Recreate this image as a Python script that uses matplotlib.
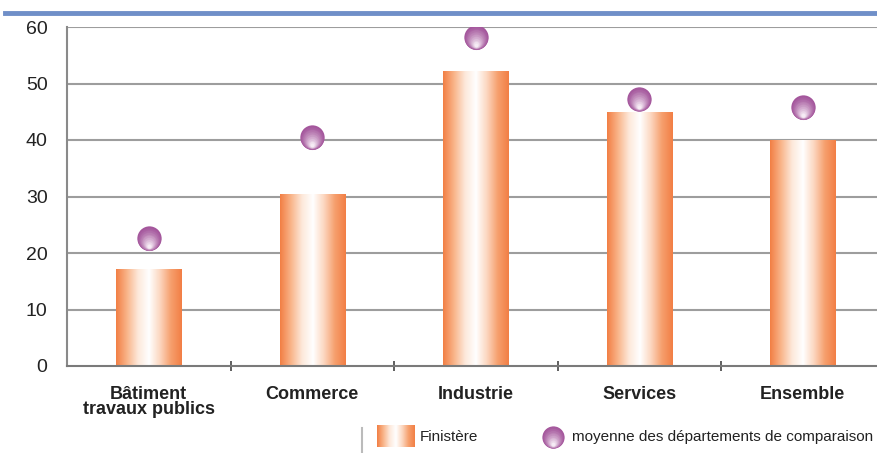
import numpy as np
import matplotlib
matplotlib.use("Agg")
import matplotlib.pyplot as plt
import matplotlib.transforms as mtransforms
from matplotlib.colors import LinearSegmentedColormap, to_rgb

categories = ["Bâtiment\ntravaux publics", "Commerce", "Industrie", "Services", "Ensemble"]
finistere = [17.0, 30.4, 52.1, 44.8, 40.0]
moyenne = [22.6, 40.5, 58.2, 47.3, 45.8]
yticks = [0, 10, 20, 30, 40, 50, 60]

plt.rcParams['font.family'] = ['Liberation Sans', 'DejaVu Sans']

fig = plt.figure(figsize=(8.77, 4.53), dpi=100)
ax = fig.add_axes([67/877, 87/453, 817.5/877, 339/453])

bar_cmap = LinearSegmentedColormap.from_list(
    "bar", ["#f27f45", "#f9b58a", "#fde8da", "#ffffff", "#fcd7c0", "#f6a06e", "#f27f45"])
grad = np.linspace(0, 1, 200).reshape(1, -1)
w = 0.4
x = np.arange(len(categories))

# gridlines
for t in yticks[1:]:
    ax.axhline(t, color="#9d9d9d", lw=1.5, zorder=1)

for xi, v in zip(x, finistere):
    ax.imshow(grad, cmap=bar_cmap, aspect="auto", extent=[xi - w/2, xi + w/2, 0, v],
              zorder=2, interpolation="bilinear")


def sphere(a, xs, ys, D=17.5, n=18):
    # shaded ball: dark purple on top, pale highlight near the bottom
    c0 = np.array(to_rgb("#a4569c"))
    c1 = np.array(to_rgb("#f6ecf5"))
    for k in range(n):
        f = k / (n - 1)
        d = D * (1 - 0.85 * f)
        dy = -(D - d) / 2 * 0.75
        col = c0 + (c1 - c0) * f ** 1.3
        tr = mtransforms.offset_copy(a.transData, fig=fig, x=0, y=dy, units="points")
        a.scatter(xs, ys, s=d ** 2, color=col, transform=tr, zorder=3, linewidths=0)


sphere(ax, x, moyenne)

ax.set_xlim(-0.5, 4.5)
ax.set_ylim(0, 60)
ax.set_yticks(yticks)
ax.set_yticklabels([str(t) for t in yticks], fontsize=14, color="#222222")
ax.tick_params(axis="y", length=0, pad=14)
ax.set_xticks(np.arange(0.5, 4.5, 1))
ax.set_xticklabels([])
ax.tick_params(axis="x", length=7, width=1.2, color="#444444", direction="inout")
for xi, lab in zip(x, categories):
    ax.text(xi, -3.5, lab, ha="center", va="top", fontsize=13, fontweight="bold",
            color="#222222", linespacing=0.9)
for sp in ["top", "right"]:
    ax.spines[sp].set_visible(False)
ax.spines["left"].set_color("#8a8a8a")
ax.spines["left"].set_linewidth(1.5)
ax.spines["bottom"].set_color("#7a7a7a")
ax.spines["bottom"].set_linewidth(1.5)

# top blue rule
fig.add_artist(plt.Line2D([5/877, 1], [1 - 13/453, 1 - 13/453], color="#6f8fc8", lw=3.5))

# legend
fig.add_artist(plt.Line2D([362/877, 362/877], [1 - 452/453, 1 - 428/453], color="#bbbbbb", lw=1.5))
lax = fig.add_axes([377/877, 1 - 447/453, 38/877, 22/453])
lax.imshow(grad, cmap=bar_cmap, aspect="auto", interpolation="bilinear")
lax.axis("off")
fig.text(420/877, 1 - 437/453, "Finistère", fontsize=11, va="center", color="#222222")
sax = fig.add_axes([538/877, 1 - 450/453, 30/877, 26/453])
sax.set_xlim(-1, 1)
sax.set_ylim(-1, 1)
sphere(sax, [0], [0], D=16)
sax.axis("off")
fig.text(572/877, 1 - 437/453, "moyenne des départements de comparaison", fontsize=11,
         va="center", color="#222222")

fig.savefig("out.png", dpi=100)
